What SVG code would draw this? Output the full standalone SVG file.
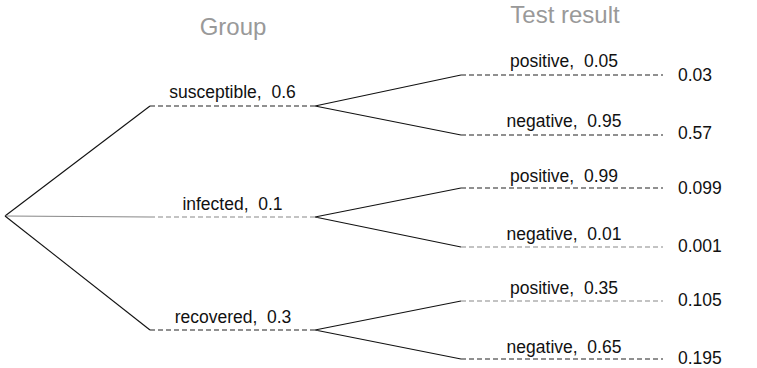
<svg xmlns="http://www.w3.org/2000/svg" width="757" height="368" viewBox="0 0 757 368">
<style>
text{font-family:"Liberation Sans",Arial,sans-serif;fill:#111;white-space:pre}
.h{font-size:24px;fill:#999;text-anchor:middle}
.l{font-size:17.5px;text-anchor:middle}
.v{font-size:17.5px}
.s{stroke:#111;stroke-width:1.1;fill:none}
.g{stroke:#888;stroke-width:1.1;fill:none}
.d{stroke:#222;stroke-width:1.1;stroke-dasharray:5,3;fill:none}
.dg{stroke:#888;stroke-width:1.1;stroke-dasharray:5,3;fill:none}
</style>
<rect width="757" height="368" fill="#fff"/>
<text class="h" x="233" y="35">Group</text>
<text class="h" x="565" y="23">Test result</text>
<g id="connectors">
<path class="s" d="M5,216 L150,106"/>
<path class="g" d="M5,216 L150,217"/>
<path class="s" d="M5,216 L150,330"/>
<path class="d" d="M150,106 H315"/>
<path class="dg" d="M150,217 H315"/>
<path class="d" d="M150,330 H315"/>
<path class="s" d="M315,106 L461,75 M315,106 L461,135"/>
<path class="s" d="M315,217 L461,188 M315,217 L461,247"/>
<path class="s" d="M315,330 L461,301 M315,330 L461,359"/>
<path class="d" d="M461,75 H663"/>
<path class="d" d="M461,135 H663"/>
<path class="d" d="M461,188 H663"/>
<path class="dg" d="M461,247 H663"/>
<path class="dg" d="M461,301 H663"/>
<path class="d" d="M461,359 H663"/>
</g>
<g id="susceptible"><text class="l" x="232.5" y="98" xml:space="preserve">susceptible,  0.6</text></g>
<g id="infected"><text class="l" x="232.5" y="209.5" xml:space="preserve">infected,  0.1</text></g>
<g id="recovered"><text class="l" x="233" y="322.5" xml:space="preserve">recovered,  0.3</text></g>
<g id="s-pos"><text class="l" x="564" y="67" xml:space="preserve">positive,  0.05</text><text class="v" x="678" y="81">0.03</text></g>
<g id="s-neg"><text class="l" x="564" y="127" xml:space="preserve">negative,  0.95</text><text class="v" x="678" y="139">0.57</text></g>
<g id="i-pos"><text class="l" x="564" y="181.5" xml:space="preserve">positive,  0.99</text><text class="v" x="678" y="193.5">0.099</text></g>
<g id="i-neg"><text class="l" x="564" y="240" xml:space="preserve">negative,  0.01</text><text class="v" x="678" y="251.5">0.001</text></g>
<g id="r-pos"><text class="l" x="564" y="294" xml:space="preserve">positive,  0.35</text><text class="v" x="678" y="305.5">0.105</text></g>
<g id="r-neg"><text class="l" x="564" y="352.5" xml:space="preserve">negative,  0.65</text><text class="v" x="678" y="364">0.195</text></g>
</svg>
